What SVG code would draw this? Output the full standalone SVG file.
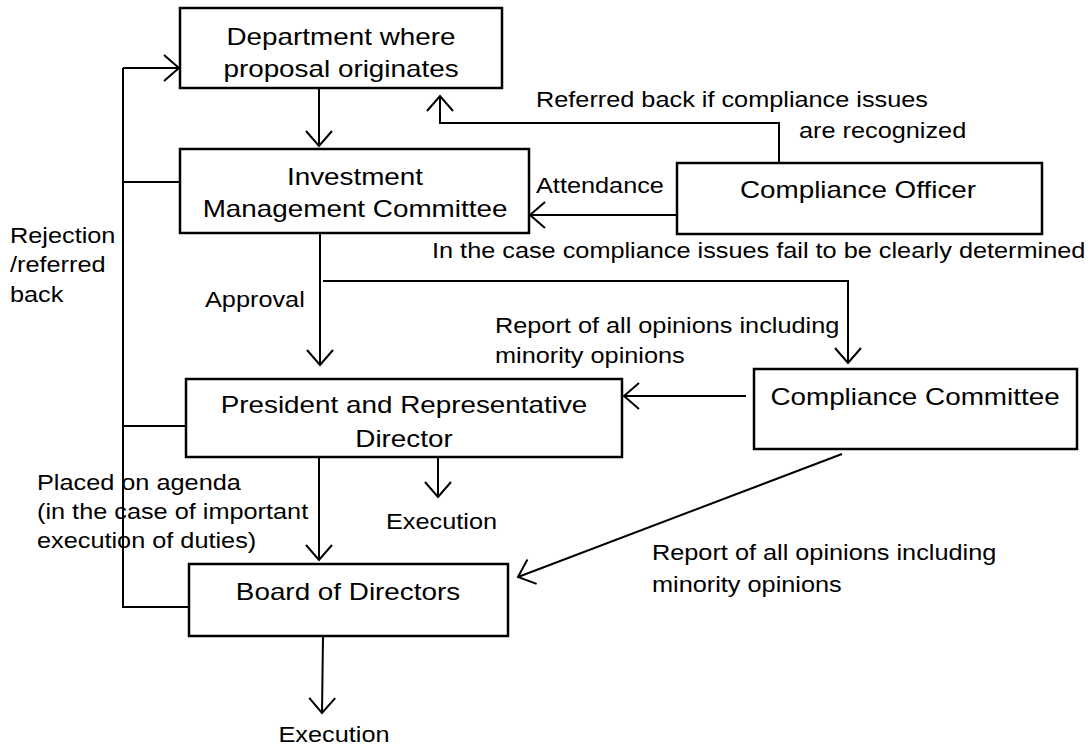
<svg xmlns="http://www.w3.org/2000/svg" width="1090" height="749" viewBox="0 0 1090 749">
<style>
.box{fill:#fff;stroke:#000;stroke-width:2.5}
.ln{fill:none;stroke:#000;stroke-width:2}
.b{font-family:"Liberation Sans",Arial,sans-serif;font-size:24px;fill:#000;text-anchor:middle}
.l{font-family:"Liberation Sans",Arial,sans-serif;font-size:22px;fill:#000}
.c{text-anchor:middle}
</style>
<defs>
<marker id="ah" viewBox="-17 -15 19 30" refX="0" refY="0" markerWidth="19" markerHeight="30" markerUnits="userSpaceOnUse" orient="auto">
<path d="M-15,-13 L0,0 L-15,13" fill="none" stroke="#000" stroke-width="2"/>
</marker>
</defs>
<rect width="1090" height="749" fill="#fff"/>
<g id="connectors">
<path class="ln" d="M123,68 V607 H189"/>
<path class="ln" d="M123,68 H179" marker-end="url(#ah)"/>
<path class="ln" d="M123,182 H180"/>
<path class="ln" d="M123,426 H186"/>
<path class="ln" d="M319,88 V146" marker-end="url(#ah)"/>
<path class="ln" d="M779,163 V123 H440 V96" marker-end="url(#ah)"/>
<path class="ln" d="M677,215 H530" marker-end="url(#ah)"/>
<path class="ln" d="M320,233 V365" marker-end="url(#ah)"/>
<path class="ln" d="M323,281 H848 V363" marker-end="url(#ah)"/>
<path class="ln" d="M746,396 H624" marker-end="url(#ah)"/>
<path class="ln" d="M438,457 V497" marker-end="url(#ah)"/>
<path class="ln" d="M319,457 V560" marker-end="url(#ah)"/>
<path class="ln" d="M842,454 L518,577" marker-end="url(#ah)"/>
<path class="ln" d="M323,636 L322,713" marker-end="url(#ah)"/>
</g>
<g id="dept">
<rect class="box" x="180" y="8" width="322" height="80"/>
<text class="b" transform="translate(341,45) scale(1.16,1)">Department where</text>
<text class="b" transform="translate(341,77) scale(1.16,1)">proposal originates</text>
</g>
<g id="imc">
<rect class="box" x="180" y="149" width="349" height="84"/>
<text class="b" transform="translate(355,185) scale(1.16,1)">Investment</text>
<text class="b" transform="translate(355,217) scale(1.16,1)">Management Committee</text>
</g>
<g id="officer">
<rect class="box" x="677" y="163" width="365" height="71"/>
<text class="b" transform="translate(858,198) scale(1.16,1)">Compliance Officer</text>
</g>
<g id="president">
<rect class="box" x="186" y="379" width="436" height="78"/>
<text class="b" transform="translate(404,413) scale(1.16,1)">President and Representative</text>
<text class="b" transform="translate(404,447) scale(1.16,1)">Director</text>
</g>
<g id="committee">
<rect class="box" x="754" y="369" width="323" height="80"/>
<text class="b" transform="translate(915,405) scale(1.16,1)">Compliance Committee</text>
</g>
<g id="board">
<rect class="box" x="189" y="564" width="319" height="72"/>
<text class="b" transform="translate(348,600) scale(1.16,1)">Board of Directors</text>
</g>
<g id="labels">
<text class="l" transform="translate(536,107) scale(1.15,1)">Referred back if compliance issues</text>
<text class="l" transform="translate(799,138) scale(1.15,1)">are recognized</text>
<text class="l" transform="translate(536,193) scale(1.15,1)">Attendance</text>
<text class="l" transform="translate(432,258) scale(1.15,1)">In the case compliance issues fail to be clearly determined</text>
<text class="l" transform="translate(10,243) scale(1.15,1)">Rejection</text>
<text class="l" transform="translate(10,272) scale(1.15,1)">/referred</text>
<text class="l" transform="translate(10,302) scale(1.15,1)">back</text>
<text class="l" transform="translate(205,307) scale(1.15,1)">Approval</text>
<text class="l" transform="translate(495,333) scale(1.15,1)">Report of all opinions including</text>
<text class="l" transform="translate(495,363) scale(1.15,1)">minority opinions</text>
<text class="l" transform="translate(37,490) scale(1.15,1)">Placed on agenda</text>
<text class="l" transform="translate(37,519) scale(1.15,1)">(in the case of important</text>
<text class="l" transform="translate(37,548) scale(1.15,1)">execution of duties)</text>
<text class="l" transform="translate(386,529) scale(1.15,1)">Execution</text>
<text class="l" transform="translate(652,560) scale(1.15,1)">Report of all opinions including</text>
<text class="l" transform="translate(652,592) scale(1.15,1)">minority opinions</text>
<text class="l c" transform="translate(334,742) scale(1.15,1)">Execution</text>
</g>
</svg>
